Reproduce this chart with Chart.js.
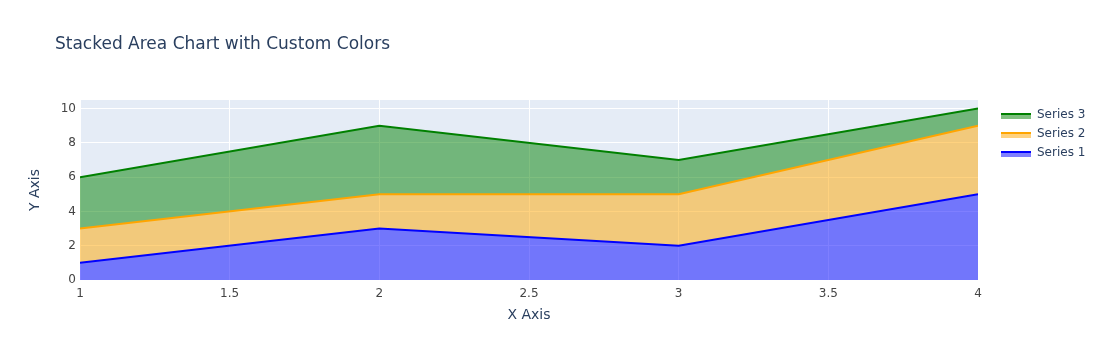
<!DOCTYPE html>
<html>
<head>
<meta charset="utf-8">
<script src="https://cdn.jsdelivr.net/npm/chart.js@4"></script>
<style>
  body { margin: 0; background: #fff; }
  canvas { display: block; }
</style>
</head>
<body>
<canvas id="myChart" width="1103" height="360"></canvas>
<script>
const xValues = [1, 2, 3, 4];
const series1 = [1, 3, 2, 5];
const series2 = [2, 2, 3, 4];
const series3 = [3, 4, 2, 1];
const seriesLabels = ['Series 1', 'Series 2', 'Series 3'];
const xTickValues = [1, 1.5, 2, 2.5, 3, 3.5, 4];
const yTickValues = [0, 2, 4, 6, 8, 10];
const yTop = 10.5;

const textColor = '#2a3f5f';
const fontFamily = '"DejaVu Sans", Verdana, sans-serif';

const toPoints = vals => vals.map((v, i) => ({ x: xValues[i], y: v }));

const colors = [
    { line: 'rgb(0,0,255)', fill: 'rgba(0,0,255,0.5)' },
    { line: 'rgb(255,165,0)', fill: 'rgba(255,165,0,0.5)' },
    { line: 'rgb(0,128,0)', fill: 'rgba(0,128,0,0.5)' }
];

// plot background + titles + legend, plotly style
const plotlyBits = {
    id: 'plotlyBits',
    beforeDraw(chart) {
        const { ctx, chartArea: a } = chart;
        ctx.save();
        ctx.fillStyle = '#E5ECF6';
        ctx.fillRect(a.left, a.top, a.right - a.left, a.bottom - a.top);
        ctx.restore();
    },
    afterDraw(chart) {
        const { ctx, chartArea: a } = chart;
        ctx.save();
        ctx.fillStyle = textColor;
        ctx.textBaseline = 'middle';

        ctx.font = '17px ' + fontFamily;
        ctx.textAlign = 'left';
        ctx.fillText('Stacked Area Chart with Custom Colors', 55, 45);

        ctx.font = '14px ' + fontFamily;
        ctx.textAlign = 'center';
        ctx.fillText('X Axis', (a.left + a.right) / 2, 315);

        ctx.save();
        ctx.translate(35, (a.top + a.bottom) / 2);
        ctx.rotate(-Math.PI / 2);
        ctx.fillText('Y Axis', 0, 0);
        ctx.restore();

        // legend, reversed like plotly does for stacked traces
        ctx.font = '12px ' + fontFamily;
        ctx.textAlign = 'left';
        const rows = [2, 1, 0];
        rows.forEach((idx, r) => {
            const y = 114 + r * 19;
            ctx.fillStyle = colors[idx].fill;
            ctx.fillRect(1001, y, 30, 5);
            ctx.strokeStyle = colors[idx].line;
            ctx.lineWidth = 2;
            ctx.beginPath();
            ctx.moveTo(1001, y);
            ctx.lineTo(1031, y);
            ctx.stroke();
            ctx.fillStyle = textColor;
            ctx.fillText(seriesLabels[idx], 1037, y + 1);
        });
        ctx.restore();
    }
};

new Chart(document.getElementById('myChart').getContext('2d'), {
    type: 'line',
    data: {
        datasets: [
            {
                label: seriesLabels[0],
                data: toPoints(series1),
                borderColor: colors[0].line,
                backgroundColor: colors[0].fill,
                fill: 'origin'
            },
            {
                label: seriesLabels[1],
                data: toPoints(series2),
                borderColor: colors[1].line,
                backgroundColor: colors[1].fill,
                fill: '-1'
            },
            {
                label: seriesLabels[2],
                data: toPoints(series3),
                borderColor: colors[2].line,
                backgroundColor: colors[2].fill,
                fill: '-1'
            }
        ]
    },
    options: {
        responsive: false,
        animation: false,
        elements: {
            line: { borderWidth: 2, tension: 0 },
            point: { radius: 0, hoverRadius: 0 }
        },
        layout: { padding: { top: 100, right: 125, left: 0, bottom: 0 } },
        plugins: {
            legend: { display: false },
            title: { display: false },
            tooltip: { enabled: false }
        },
        scales: {
            x: {
                type: 'linear',
                min: 1,
                max: 4,
                border: { display: false },
                grid: { color: '#ffffff', lineWidth: 1, drawTicks: false },
                ticks: {
                    color: '#444',
                    font: { family: fontFamily, size: 12 },
                    padding: 7,
                    maxRotation: 0,
                    callback: v => String(v)
                },
                afterBuildTicks(scale) { scale.ticks = xTickValues.map(v => ({ value: v })); },
                afterFit(scale) { scale.height = 80; }
            },
            y: {
                stacked: true,
                min: 0,
                max: yTop,
                border: { display: false },
                grid: { color: '#ffffff', lineWidth: 1, drawTicks: false },
                ticks: {
                    color: '#444',
                    font: { family: fontFamily, size: 12 },
                    padding: 4,
                    callback: v => String(v)
                },
                afterBuildTicks(scale) { scale.ticks = yTickValues.map(v => ({ value: v })); },
                afterFit(scale) { scale.width = 80; }
            }
        }
    },
    plugins: [plotlyBits]
});
</script>
</body>
</html>
